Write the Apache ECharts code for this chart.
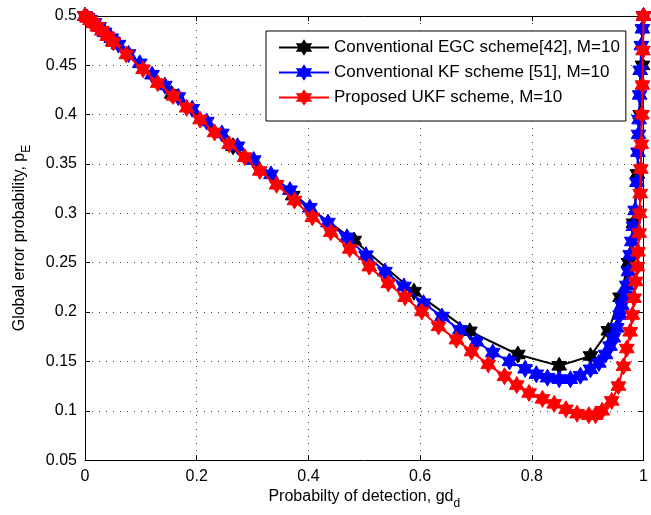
<!DOCTYPE html>
<html>
<head>
<meta charset="utf-8">
<style>
  html, body { margin: 0; padding: 0; background: #fff; }
  #chart { width: 651px; height: 515px; }
</style>
<script src="https://cdn.jsdelivr.net/npm/echarts@6/dist/echarts.min.js"></script>
</head>
<body>
<div id="chart"></div>
<script>
// series values (x = probability of detection, y = global error probability)
var egcX = [0, 0.05, 0.155, 0.265, 0.372, 0.482, 0.589, 0.689, 0.775, 0.849, 0.905, 0.937, 0.958, 0.973, 0.982, 0.989, 0.994, 0.998, 1.0]
var egcY = [0.5, 0.474, 0.421, 0.368, 0.318, 0.2725, 0.2207, 0.1805, 0.157, 0.1455, 0.1555, 0.181, 0.215, 0.25, 0.29, 0.34, 0.40, 0.45, 0.5]

var kfX = [0, 0.004, 0.01, 0.017, 0.025, 0.035, 0.047, 0.06, 0.078, 0.098, 0.12, 0.143, 0.167, 0.192, 0.218, 0.245, 0.273, 0.302, 0.333, 0.367,
  0.4025, 0.435, 0.469, 0.503, 0.537, 0.571, 0.606, 0.639, 0.671, 0.701, 0.730, 0.760, 0.788, 0.808, 0.828, 0.849, 0.869, 0.887, 0.905, 0.920,
  0.932, 0.940, 0.946, 0.952, 0.958, 0.961, 0.967, 0.970, 0.973, 0.976, 0.979, 0.982, 0.985, 0.988, 0.990, 0.991, 0.992, 0.993, 0.994, 0.996, 0.998, 1.0]
var kfY = [0.5, 0.4985, 0.496, 0.493, 0.489, 0.4835, 0.4775, 0.471, 0.4615, 0.452, 0.4405, 0.4295, 0.418, 0.406, 0.393, 0.381, 0.368, 0.354, 0.3395, 0.3235,
  0.3057, 0.2907, 0.2757, 0.2576, 0.241, 0.226, 0.209, 0.1955, 0.182, 0.170, 0.159, 0.150, 0.1425, 0.137, 0.1335, 0.132, 0.132, 0.1355, 0.142, 0.1485,
  0.157, 0.1655, 0.174, 0.184, 0.197, 0.207, 0.217, 0.227, 0.241, 0.258, 0.2715, 0.287, 0.303, 0.3315, 0.362, 0.38, 0.395, 0.42, 0.445, 0.47, 0.487, 0.5]

var ukfX = [0, 0.004, 0.009, 0.015, 0.022, 0.03, 0.04, 0.051, 0.074, 0.104, 0.130, 0.158, 0.182, 0.206, 0.232, 0.258, 0.286, 0.313, 0.343, 0.375,
  0.407, 0.440, 0.474, 0.509, 0.543, 0.573, 0.603, 0.633, 0.665, 0.692, 0.722, 0.751, 0.773, 0.795, 0.819, 0.840, 0.861, 0.881, 0.902, 0.914,
  0.926, 0.943, 0.955, 0.964, 0.970, 0.976, 0.980, 0.983, 0.986, 0.989, 0.990, 0.992, 0.993, 0.994, 0.995, 0.996, 0.997, 0.998, 0.999, 1.0]
var ukfY = [0.5, 0.498, 0.4955, 0.4925, 0.489, 0.485, 0.4795, 0.4735, 0.461, 0.446, 0.432, 0.419, 0.407, 0.395, 0.382, 0.370, 0.357, 0.343, 0.329, 0.313,
  0.296, 0.281, 0.264, 0.246, 0.229, 0.215, 0.2006, 0.1855, 0.172, 0.160, 0.147, 0.135, 0.126, 0.118, 0.112, 0.107, 0.1015, 0.097, 0.0955, 0.0955,
  0.100, 0.110, 0.125, 0.145, 0.163, 0.180, 0.197, 0.214, 0.231, 0.246, 0.261, 0.28, 0.30, 0.32, 0.345, 0.37, 0.40, 0.43, 0.465, 0.5]

var seriesNames = ['Conventional EGC scheme[42], M=10', 'Conventional KF scheme [51], M=10', 'Proposed UKF scheme, M=10']
var seriesColors = ['#000000', '#0000ff', '#ff0000']

// six pointed star like the matlab hexagram marker
var hexagram = 'path://M0,-100L28.87,-50L86.6,-50L57.7,0L86.6,50L28.87,50L0,100L-28.87,50L-86.6,50L-57.7,0L-86.6,-50L-28.87,-50Z'

function zip(xs, ys) {
  return xs.map(function(x, i) { return [x, ys[i]] })
}

var chart = echarts.init(document.getElementById('chart'), null, { renderer: 'canvas' })

var font = 'Liberation Sans, Arial, Helvetica, sans-serif'
var gridDots = { color: '#444', width: 1, type: [1, 6] }

function makeSeries(i, xs, ys) {
  return {
    name: seriesNames[i],
    type: 'line',
    z: 2 + i, // later series sit on top, like matlab's hold on
    data: zip(xs, ys),
    symbol: hexagram,
    symbolSize: 17,
    symbolKeepAspect: true,
    showSymbol: true,
    lineStyle: { color: seriesColors[i], width: 2 },
    itemStyle: { color: seriesColors[i], borderColor: seriesColors[i], borderWidth: 1 },
    emphasis: { disabled: true },
    animation: false
  }
}

chart.setOption({
  backgroundColor: '#fff',
  textStyle: { fontFamily: font },
  grid: { left: 85, right: 2, top: 16, bottom: 52, containLabel: false },
  legend: {
    orient: 'vertical',
    left: 266,
    top: 31,
    padding: [8, 6, 15, 12],
    itemGap: 8,
    itemWidth: 50,
    itemHeight: 16,
    borderColor: '#000',
    borderWidth: 1,
    backgroundColor: '#fff',
    textStyle: { fontSize: 17, color: '#000', fontFamily: font },
    data: seriesNames
  },
  xAxis: [{
    type: 'value',
    min: 0,
    max: 1,
    interval: 0.2,
    name: '{a|Probabilty of detection, gd}{b|d}',
    nameLocation: 'middle',
    nameGap: 28,
    nameTextStyle: {
      rich: {
        a: { fontSize: 16, color: '#000', fontFamily: font, verticalAlign: 'top', lineHeight: 18 },
        b: { fontSize: 12, color: '#000', fontFamily: font, verticalAlign: 'top', padding: [9, 0, 0, 0] }
      }
    },
    axisLine: { show: true, onZero: false, lineStyle: { color: '#000', width: 1 } },
    axisTick: { show: true, inside: true, length: 5, lineStyle: { color: '#000' } },
    axisLabel: { fontSize: 16, color: '#000', margin: 8, showMinLabel: true, showMaxLabel: true, hideOverlap: false },
    splitLine: { show: true, lineStyle: gridDots }
  }, {
    type: 'value',
    position: 'top',
    min: 0,
    max: 1,
    interval: 0.2,
    axisLine: { show: true, onZero: false, lineStyle: { color: '#000', width: 1 } },
    axisTick: { show: true, inside: true, length: 5, lineStyle: { color: '#000' } },
    axisLabel: { show: false },
    splitLine: { show: false }
  }],
  yAxis: [{
    type: 'value',
    min: 0.05,
    max: 0.5,
    interval: 0.05,
    name: '{a|Global error probability, p}{b|E}',
    nameLocation: 'middle',
    nameGap: 52,
    nameTextStyle: {
      rich: {
        a: { fontSize: 16, color: '#000', fontFamily: font, verticalAlign: 'top', lineHeight: 18 },
        b: { fontSize: 12, color: '#000', fontFamily: font, verticalAlign: 'top', padding: [9, 0, 0, 0] }
      }
    },
    axisLine: { show: true, onZero: false, lineStyle: { color: '#000', width: 1 } },
    axisTick: { show: true, inside: true, length: 5, lineStyle: { color: '#000' } },
    axisLabel: {
      fontSize: 16, color: '#000', margin: 8, showMinLabel: true, showMaxLabel: true, hideOverlap: false,
      formatter: function(v) { return String(Math.round(v * 100) / 100) }
    },
    splitLine: { show: true, lineStyle: gridDots }
  }, {
    type: 'value',
    position: 'right',
    min: 0.05,
    max: 0.5,
    interval: 0.05,
    axisLine: { show: true, onZero: false, lineStyle: { color: '#000', width: 1 } },
    axisTick: { show: true, inside: true, length: 5, lineStyle: { color: '#000' } },
    axisLabel: { show: false },
    splitLine: { show: false }
  }],
  series: [
    makeSeries(0, egcX, egcY),
    makeSeries(1, kfX, kfY),
    makeSeries(2, ukfX, ukfY)
  ]
})
</script>
</body>
</html>
